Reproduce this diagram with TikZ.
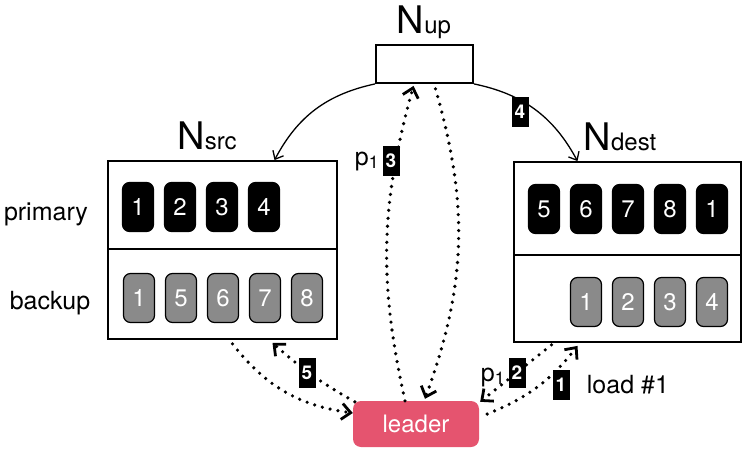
\documentclass[tikz,border=0pt]{standalone}
\usepackage{fontspec}
\setmainfont{TeX Gyre Heros}
\usetikzlibrary{arrows.meta, positioning}
\definecolor{leaderred}{HTML}{E5546F}
\definecolor{backupgray}{HTML}{8A8A8A}
\tikzset{
    server/.style = {draw, line width=1.8pt, inner sep=0pt},
    primary entry/.style = {on grid, draw=black, fill=black, line width=1.2pt, rounded corners=7pt,
        minimum width=31pt, minimum height=49pt, inner sep=0pt, text=white, font=\fontsize{24}{24}\selectfont},
    backup entry/.style = {primary entry, fill=backupgray},
    step tag/.style = {fill=black, text=white, inner sep=0pt, minimum width=17pt, minimum height=30pt,
        font=\bfseries\fontsize{19}{19}\selectfont},
    msg/.style = {line width=3.6pt, dash pattern=on 0pt off 8pt, line cap=round,
        -{Straight Barb[length=9pt,width=16pt,line width=2.8pt]}},
    ctrl/.style = {line width=1.3pt, -{Straight Barb[length=7pt,width=12pt]}},
}
\newcommand{\servername}[1]{{\fontsize{38}{38}\selectfont N}{\fontsize{24}{24}\selectfont #1}}

\begin{document}
\begin{tikzpicture}[x=1pt, y=-1pt, node distance=42pt, every node/.style={font=\fontsize{25}{25}\selectfont}]
    \useasboundingbox (0,0) rectangle (748,453);

    \node (up) [server, minimum width=97pt, minimum height=38pt] at (424.5,64) {};
    \node (src) [server, minimum width=229pt, minimum height=178pt] at (222.5,250) {};
    \node (dest) [server, minimum width=227pt, minimum height=180pt] at (627.5,252) {};
    \node (leader) [fill=leaderred, rounded corners=8pt, minimum width=126pt, minimum height=46pt,
        text=white, font=\fontsize{24}{24}\selectfont] at (416,424) {leader};

    \node (upname) [anchor=base] at (424,33) {\servername{up}};
    \node (srcname) [anchor=base] at (207,149) {\servername{src}};
    \node (destname) [anchor=base] at (620,150) {\servername{dest}};

    \draw [line width=1.2pt] (src.west |- 0,249) -- (src.east |- 0,249);
    \draw [line width=1.2pt] (dest.west |- 0,255) -- (dest.east |- 0,255);

    \node (primarylabel) at (46,214) {primary};
    \node (backuplabel) at (50,303) {backup};

    \node (s1) [primary entry] at (138,207) {1};
    \node (s2) [primary entry, right=of s1] {2};
    \node (s3) [primary entry, right=of s2] {3};
    \node (s4) [primary entry, right=of s3] {4};
    \node (sb1) [backup entry] at (139,298) {1};
    \node (sb5) [backup entry, right=of sb1] {5};
    \node (sb6) [backup entry, right=of sb5] {6};
    \node (sb7) [backup entry, right=of sb6] {7};
    \node (sb8) [backup entry, right=of sb7] {8};

    \node (d5) [primary entry] at (544,209) {5};
    \node (d6) [primary entry, right=of d5] {6};
    \node (d7) [primary entry, right=of d6] {7};
    \node (d8) [primary entry, right=of d7] {8};
    \node (d1) [primary entry, right=of d8] {1};
    \node (db1) [backup entry] at (586,302) {1};
    \node (db2) [backup entry, right=of db1] {2};
    \node (db3) [backup entry, right=of db2] {3};
    \node (db4) [backup entry, right=of db3] {4};

    \draw [ctrl] (up.south west) to [bend right=25] ([xshift=52pt]src.north);
    \draw [ctrl] (up.south east) to [bend left=25] ([xshift=-50pt]dest.north);

    \draw [msg] ([xshift=-11pt]leader.north) to [bend left=14] ([xshift=-11pt,yshift=-2pt]up.south);
    \draw [msg] ([xshift=11pt,yshift=-5pt]up.south) to [bend left=18] ([xshift=9pt,yshift=2pt]leader.north);
    \draw [msg] ([xshift=10pt,yshift=-4pt]src.south) to [bend right=22] ([yshift=11pt]leader.west);
    \draw [msg] ([xshift=2pt,yshift=-1pt]leader.north west) to [bend left=6] ([xshift=50pt,yshift=-3pt]src.south);
    \draw [msg] ([xshift=-76pt,yshift=-2pt]dest.south) -- ([xshift=1pt,yshift=-1pt]leader.north east);
    \draw [msg] ([xshift=8pt,yshift=10pt]leader.east) to [bend right=15] ([xshift=-50pt,yshift=-3pt]dest.south);

    \node (tag4) [step tag] at (520,112) {4};
    \node (tag3) [step tag] at (391,161) {3};
    \node (p3) [left=3pt of tag3, inner sep=0pt] {p\textsubscript{1}};
    \node (tag5) [step tag] at (307,373) {5};
    \node (tag2) [step tag] at (517,373) {2};
    \node (p2) [left=3pt of tag2, inner sep=0pt, yshift=-4pt] {p\textsubscript{1}};
    \node (tag1) [step tag] at (561,385) {1};
    \node (loadlabel) [right=17pt of tag1, inner sep=0pt] {load \#1};
\end{tikzpicture}
\end{document}
